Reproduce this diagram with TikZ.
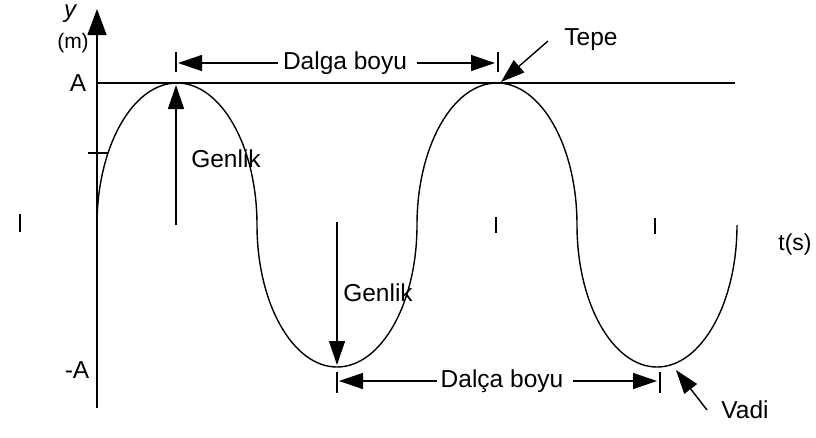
\documentclass[tikz,border=0pt]{standalone}
\usepackage{fontspec}
\setmainfont{Liberation Sans}
\usetikzlibrary{arrows.meta}
\begin{document}
\begin{tikzpicture}[x=1pt,y=-1pt,
  lbl/.style={inner sep=0pt,font=\fontsize{24.5}{28}\selectfont},
  ln/.style={line width=1.4pt},
  arr/.style={ln,-{Triangle[length=24pt,width=16pt]}},
  thin/.style={line width=1.3pt}]
\useasboundingbox (0,0) rectangle (816,437);
% axis
\coordinate (ax0) at (97,408);
\coordinate (ax1) at (97,9);
\draw[ln,-{Triangle[length=26pt,width=19pt]}] (ax0) -- (ax1);
\coordinate (yt0) at (88,153);
\coordinate (yt1) at (108,153);
\draw[thin] (yt0) -- (yt1);
% amplitude line
\coordinate (h0) at (97,83);
\coordinate (h1) at (735,83);
\draw[thin] (h0) -- (h1);
% curve (semi-ellipses)
\coordinate (c0) at (97,225);
\draw[ln] (c0) arc[start angle=180,end angle=0,x radius=80pt,y radius=142pt]
  arc[start angle=180,end angle=360,x radius=80pt,y radius=142pt]
  arc[start angle=180,end angle=0,x radius=80pt,y radius=142pt]
  arc[start angle=180,end angle=360,x radius=80pt,y radius=142pt];
% midline ticks
\foreach \n/\x/\a/\b in {t1/20/214/232, t2/496/217/233, t3/655/218/234}{
  \coordinate (\n a) at (\x,\a);
  \coordinate (\n b) at (\x,\b);
  \draw[thin] (\n a) -- (\n b);
}
% labels
\node[inner sep=0pt,font=\fontsize{24}{28}\selectfont\itshape] (ylab) at (70,14) {y};
\node[inner sep=0pt,font=\fontsize{21}{24}\selectfont] (mlab) at (73,43) {(m)};
\node[lbl] (Alab) at (78,83) {A};
\node[lbl] (mAlab) at (77,370) {-A};
\node[lbl,font=\fontsize{23}{26}\selectfont] (tlab) at (795,245) {t(s)};
% amplitude arrows
\coordinate (g1a) at (176,225);
\coordinate (g1b) at (176,85);
\draw[arr] (g1a) -- (g1b);
\node[lbl] (gen1) at (226,159) {Genlik};
\coordinate (g2a) at (337,222);
\coordinate (g2b) at (337,365);
\draw[arr] (g2a) -- (g2b);
\node[lbl] (gen2) at (378,293) {Genlik};
% top wavelength
\coordinate (b1a) at (176,52);
\coordinate (b1b) at (176,72);
\draw[thin] (b1a) -- (b1b);
\coordinate (b2a) at (498,52);
\coordinate (b2b) at (498,72);
\draw[thin] (b2a) -- (b2b);
\node[lbl] (dal1) at (345,63) {Dalga boyu};
\coordinate (d1l) at (178,63);
\coordinate (d1r) at (495,63);
\draw[arr] (dal1.west) ++(-5,0) coordinate (d1s) -- (d1l);
\draw[arr] (dal1.east) ++(10,0) coordinate (d1e) -- (d1r);
% bottom wavelength
\coordinate (b3a) at (337,372);
\coordinate (b3b) at (337,393);
\draw[thin] (b3a) -- (b3b);
\coordinate (b4a) at (660,372);
\coordinate (b4b) at (660,393);
\draw[thin] (b4a) -- (b4b);
\node[lbl] (dal2) at (502,381) {Dalça boyu};
\coordinate (d2l) at (339,381);
\coordinate (d2r) at (657,381);
\draw[arr] (dal2.west) ++(-4,0) coordinate (d2s) -- (d2l);
\draw[arr] (dal2.east) ++(10,0) coordinate (d2e) -- (d2r);
% Tepe / Vadi
\node[lbl] (tepe) at (591,40) {Tepe};
\coordinate (tp0) at (548,41);
\coordinate (tp1) at (501,82);
\draw[arr] (tp0) -- (tp1);
\node[lbl] (vadi) at (745,410) {Vadi};
\coordinate (vd0) at (707,410);
\coordinate (vd1) at (676,370);
\draw[arr] (vd0) -- (vd1);
\end{tikzpicture}
\end{document}
